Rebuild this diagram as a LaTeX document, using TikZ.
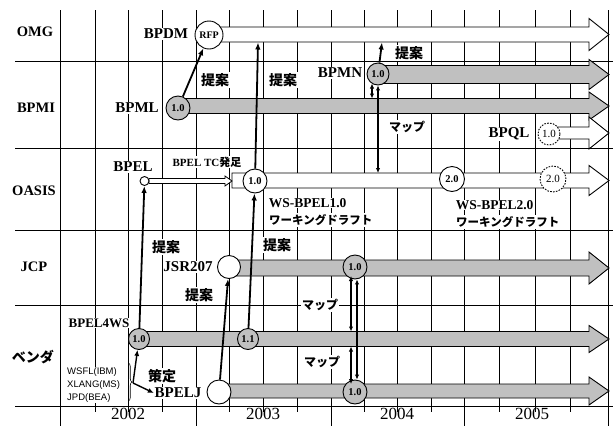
\documentclass[tikz,border=0pt]{standalone}
\usepackage{fontspec}
\setmainfont{Liberation Serif}
\newfontfamily\jpf{Noto Sans CJK JP}
\newfontfamily\arialf{Liberation Sans}
\usetikzlibrary{arrows.meta,decorations.pathreplacing}
\definecolor{bargray}{RGB}{192,192,192}
% block arrow: #1 style, #2 start x, #3 centre y, #4 shaft half width, #5 head half width
\newcommand\blockarr[5]{%
  \draw[#1] (#2,{#3-#4}) -- (589,{#3-#4}) -- (589,{#3-#5}) -- (609,#3) -- (589,{#3+#5}) -- (589,{#3+#4}) -- (#2,{#3+#4}) -- cycle;}
\begin{document}
\begin{tikzpicture}[x=1pt,y=-1pt,
  gridline/.style={line width=0.9pt, black},
  warrow/.style={draw=black, line width=0.9pt, fill=white},
  garrow/.style={draw=black, line width=0.9pt, fill=bargray},
  lab/.style={fill=white, inner sep=0.6pt, font=\bfseries\fontsize{15}{16}\selectfont},
  rowlab/.style={fill=white, inner sep=0.6pt, font=\bfseries\fontsize{14.5}{16}\selectfont},
  jlab/.style={fill=white, inner sep=1pt, font=\jpf\bfseries\fontsize{14}{16}\selectfont},
  maplab/.style={fill=white, inner sep=1pt, font=\jpf\bfseries\fontsize{12}{13}\selectfont},
  ver/.style={circle, draw=black, line width=0.9pt, inner sep=0pt, font=\bfseries\fontsize{10.5}{11}\selectfont},
  gver/.style={ver, fill=bargray},
  wver/.style={ver, fill=white},
  dver/.style={ver, fill=white, dash pattern=on 1.6pt off 1.3pt, font=\fontsize{11}{11}\selectfont},
  year/.style={font=\fontsize{17}{18}\selectfont},
  conn/.style={line width=1.8pt, -{Latex[length=7pt,width=5.5pt]}},
  thinconn/.style={line width=1.4pt, -{Latex[length=6pt,width=5pt]}},
  dconn/.style={line width=1.4pt, {Latex[length=5pt,width=4.5pt]}-{Latex[length=5pt,width=4.5pt]}}
]
\useasboundingbox (0,0) rectangle (613,426);
\fill[white] (0,0) rectangle (613,426);

% grid
\foreach \x in {60,95,128,162,196,229,263,297,331,364,397,431,464,499,535,570,608}
  \draw[gridline] (\x,10) -- (\x,412);
\foreach \x in {60,196,331,464,608}
  \draw[gridline] (\x,406) -- (\x,426);
\foreach \y in {61,148,230,305,406}
  \draw[gridline] (15,\y) -- (613,\y);

% block arrows
\blockarr{warrow}{209}{34.5}{7.5}{16}
\blockarr{garrow}{378}{74.5}{9}{15}
\blockarr{garrow}{178}{106}{7.5}{14}
\blockarr{warrow}{549}{133}{6}{16}
\blockarr{warrow}{232}{180.5}{7.5}{15}
\blockarr{garrow}{229}{268}{8}{16}
\blockarr{garrow}{139}{339}{7.5}{13.5}
\blockarr{garrow}{219}{391}{7}{14}
% BPEL TC hollow arrow
\draw[warrow, line width=0.8pt] (149,178.5) -- (225,178.5) -- (225,176) -- (232,181) -- (225,186) -- (225,183.5) -- (149,183.5) -- cycle;

% row labels
\node[rowlab] (omg) at (35,32) {OMG};
\node[rowlab] (bpmi) at (36,108) {BPMI};
\node[rowlab] (oasis) at (34,191) {OASIS};
\node[rowlab] (jcp) at (34,267) {JCP};
\node[jlab] (vendor) at (33,357) {ベンダ};

% item labels
\node[lab] (bpdm) at (166,34) {BPDM};
\node[lab] (bpmll) at (137,108) {BPML};
\node[lab] (bpmnl) at (340,73) {BPMN};
\node[lab] (bpqll) at (509,134) {BPQL};
\node[lab] (bpell) at (133,167) {BPEL};
\node[lab, font=\bfseries\fontsize{11}{12}\selectfont] (tc) at (207,162) {BPEL TC{\jpf\bfseries 発足}};
\node[lab, anchor=west, font=\bfseries\fontsize{13.5}{14}\selectfont] (ws1a) at (268,203) {WS-BPEL1.0};
\node[jlab, anchor=west, font=\jpf\bfseries\fontsize{11.5}{13}\selectfont] (ws1b) at (268,220) {ワーキングドラフト};
\node[lab, anchor=west, font=\bfseries\fontsize{13.5}{14}\selectfont] (ws2a) at (455,205) {WS-BPEL2.0};
\node[jlab, anchor=west, font=\jpf\bfseries\fontsize{11.5}{13}\selectfont] (ws2b) at (455,222) {ワーキングドラフト};
\node[lab] (jsrl) at (188,267) {JSR207};
\node[lab, font=\bfseries\fontsize{13}{14}\selectfont] (bpel4ws) at (99,323) {BPEL4WS};
\node[jlab] (sakutei) at (162,376) {策定};
\node[lab] (bpeljl) at (178,393) {BPELJ};
\node[fill=white, inner sep=1pt, anchor=west, align=left, font=\arialf\fontsize{9.5}{13}\selectfont] (orig) at (66,385) {WSFL(IBM)\\XLANG(MS)\\JPD(BEA)};

\node[jlab] (tei1) at (215,80) {提案};
\node[jlab] (tei2) at (283,80) {提案};
\node[jlab] (tei3) at (409,53) {提案};
\node[jlab] (tei4) at (166,247) {提案};
\node[jlab] (tei5) at (277,245) {提案};
\node[jlab] (tei6) at (199,295) {提案};
\node[maplab] (map1) at (407,127) {マップ};
\node[maplab] (map2) at (320,305) {マップ};
\node[maplab] (map3) at (322,362) {マップ};

% years
\node[year] at (128,414) {2002};
\node[year] at (263,414) {2003};
\node[year] at (397,414) {2004};
\node[year] at (532,414) {2005};

% version circles
\node[wver, minimum size=28pt, font=\bfseries\fontsize{10}{10}\selectfont] (rfp) at (209,35) {RFP};
\node[gver, minimum size=24pt] (bpml) at (178,108) {1.0};
\node[gver, minimum size=22pt] (bpmn) at (378,74) {1.0};
\node[dver, minimum size=22pt] (bpql) at (549,134) {1.0};
\node[wver, minimum size=9pt] (bpelc) at (144.5,181) {};
\node[wver, minimum size=24pt] (ws10) at (255,181) {1.0};
\node[wver, minimum size=25pt] (ws20) at (452,179) {2.0};
\node[dver, minimum size=26pt] (ws20d) at (553,179) {2.0};
\node[wver, minimum size=23pt] (jsr) at (229,267) {};
\node[gver, minimum size=24pt] (jcp10) at (355,267) {1.0};
\node[gver, minimum size=21pt] (v10) at (139,339) {1.0};
\node[gver, minimum size=21pt] (v11) at (248,339) {1.1};
\node[wver, minimum size=24pt] (bpeljc) at (219,392) {};
\node[gver, minimum size=24pt] (v20) at (355,392) {1.0};

% free ends
\coordinate (omgb1) at (258,42.5);
\coordinate (omgb2) at (382,42.5);
\coordinate (mapa1) at (372,83.5);
\coordinate (mapa2) at (372,98.5);
\coordinate (oasist) at (378,173);
\coordinate (mapb1) at (351,276);
\coordinate (mapb2) at (351,331.5);
\coordinate (mapc1) at (351,346.5);
\coordinate (mapc2) at (351,384);
\coordinate (bt) at (133,383);

% brace
\draw[line width=0.6pt, decorate, decoration={brace, amplitude=3.5pt}] (128.5,363) -- (128.5,401);

% connectors
\draw[conn] (v10) -- (bpelc);
\draw[conn] (bpml) -- (rfp);
\draw[conn] (v11) -- (ws10);
\draw[conn] (ws10) -- (omgb1);
\draw[conn] (bpeljc) -- (jsr);
\draw[conn] (bpmn) -- (omgb2);
\draw[dconn] (mapa1) -- (mapa2);
\draw[dconn] (bpmn) -- (oasist);
\draw[dconn] (mapb1) -- (mapb2);
\draw[dconn] (mapc1) -- (mapc2);
\draw[dconn] ([xshift=2pt]jcp10.south) -- ([xshift=2pt]v20.north);
\draw[thinconn] (bt) -- (v10);
\draw[thinconn] (bt) -- (bpeljl.west);
\end{tikzpicture}
\end{document}
